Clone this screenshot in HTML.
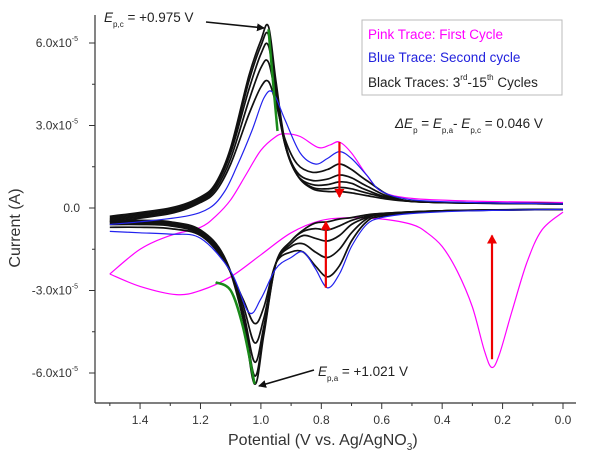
<!DOCTYPE html>
<html><head><meta charset="utf-8"><style>
body{margin:0;background:#fff;}
svg{display:block;font-family:"Liberation Sans",sans-serif;}
</style></head><body>
<svg id="chart" width="600" height="457" viewBox="0 0 600 457">
<defs>
<marker id="ah" markerWidth="8" markerHeight="8" refX="7" refY="4" orient="auto" markerUnits="userSpaceOnUse"><path d="M0,0 L8,4 L0,8 z" fill="#111"/></marker>
<marker id="ahr" markerWidth="9" markerHeight="10" refX="8" refY="5" orient="auto" markerUnits="userSpaceOnUse"><path d="M0,0 L9,5 L0,10 z" fill="#e00"/></marker>
</defs>
<g id="axes"></g>
<g id="series"></g>
<g id="annot"></g>
<text x="20" y="228" transform="rotate(-90 20 228)" text-anchor="middle" font-size="16" fill="#333">Current (A)</text>
<text x="228" y="445" font-size="16" fill="#333">Potential (V vs. Ag/AgNO<tspan font-size="10" dy="5">3</tspan><tspan dy="-5">)</tspan></text>
<g>
<rect x="362" y="20" width="200" height="75" fill="#fff" stroke="#bbb" stroke-width="1"/>
<text x="368" y="39" font-size="13.5" fill="#f0f">Pink Trace: First Cycle</text>
<text x="368" y="62" font-size="13.5" fill="#22d">Blue Trace: Second cycle</text>
<text x="368" y="87" font-size="13.5" fill="#222">Black Traces: 3<tspan font-size="8" dy="-7">rd</tspan><tspan dy="7">-15</tspan><tspan font-size="8" dy="-7">th</tspan><tspan dy="7"> Cycles</tspan></text>
</g>
<text x="395" y="128" font-size="13.5" fill="#222"><tspan font-style="italic">ΔE</tspan><tspan font-size="8" dy="5">p</tspan><tspan dy="-5"> = </tspan><tspan font-style="italic">E</tspan><tspan font-size="8" dy="5">p,a</tspan><tspan dy="-5">- </tspan><tspan font-style="italic">E</tspan><tspan font-size="8" dy="5">p,c</tspan><tspan dy="-5"> = 0.046 V</tspan></text>
<text x="104" y="22" font-size="13.5" fill="#222"><tspan font-style="italic">E</tspan><tspan font-size="8" dy="5">p,c</tspan><tspan dy="-5"> = +0.975 V</tspan></text>
<text x="318" y="376" font-size="13.5" fill="#222"><tspan font-style="italic">E</tspan><tspan font-size="8" dy="5">p,a</tspan><tspan dy="-5"> = +1.021 V</tspan></text>
</svg>
<script>
const xTicks=[1.4,1.2,1.0,0.8,0.6,0.4,0.2,0.0];
const xTickLabels=["1.4","1.2","1.0","0.8","0.6","0.4","0.2","0.0"];
const yTicks=[6,3,0,-3,-6];
const yTickLabels=["6.0x10","3.0x10","0.0","-3.0x10","-6.0x10"];
const pinkUpE=[1.5,1.4,1.3,1.2,1.15,1.1,1.05,1.0,0.95,0.92,0.87,0.81,0.77,0.74,0.7,0.65,0.6,0.5,0.3,0.0];
const pinkUpI=[-2.4,-1.5,-1.0,-0.7,-0.3,0.3,1.2,2.1,2.6,2.7,2.6,2.2,2.3,2.4,2.0,1.2,0.6,0.35,0.25,0.2];
const pinkDnE=[1.5,1.4,1.28,1.2,1.1,1.0,0.9,0.8,0.7,0.6,0.5,0.45,0.4,0.35,0.3,0.26,0.235,0.21,0.17,0.12,0.07,0.0];
const pinkDnI=[-2.4,-2.85,-3.15,-3.0,-2.5,-1.7,-0.9,-0.45,-0.35,-0.4,-0.6,-0.9,-1.4,-2.3,-3.6,-5.2,-5.8,-5.3,-3.8,-2.0,-0.8,-0.15];
const blueUpE=[0.0,0.3,0.5,0.6,0.65,0.7,0.74,0.78,0.82,0.87,0.92,0.96,0.99,1.03,1.08,1.12,1.17,1.25,1.4,1.5];
const blueUpI=[0.15,0.2,0.3,0.6,1.2,1.8,2.05,1.8,1.6,2.0,3.2,4.2,4.0,2.8,1.5,0.6,0.0,-0.3,-0.5,-0.6];
const blueDnE=[1.5,1.4,1.3,1.2,1.1,1.04,1.0,0.95,0.9,0.86,0.82,0.78,0.74,0.7,0.65,0.6,0.5,0.3,0.0];
const blueDnI=[-0.85,-0.9,-0.95,-1.1,-2.3,-3.8,-3.3,-2.2,-1.8,-1.6,-2.2,-2.9,-2.4,-1.4,-0.6,-0.35,-0.2,-0.1,-0.05];
const blackUpE=[0,0.4,0.55,0.65,0.7,0.74,0.78,0.83,0.88,0.92,0.95,0.975,1.0,1.04,1.1,1.15,1.2,1.3,1.5];
const black3Up=[0.15,0.2,0.35,1.0,1.4,1.6,1.4,1.3,1.6,2.5,3.8,4.6,4.4,3.4,1.6,0.6,0.2,-0.2,-0.5];
const black6Up=[0.15,0.2,0.32,0.8,1.1,1.2,1.05,1.0,1.3,2.3,4.0,5.3,5.1,3.9,1.8,0.7,0.25,-0.15,-0.45];
const black9Up=[0.15,0.2,0.3,0.65,0.9,0.95,0.85,0.85,1.2,2.3,4.2,5.9,5.6,4.3,2.0,0.8,0.3,-0.1,-0.4];
const black12Up=[0.15,0.2,0.3,0.55,0.7,0.75,0.7,0.75,1.2,2.3,4.4,6.3,5.9,4.6,2.1,0.85,0.35,-0.05,-0.35];
const black15Up=[0.15,0.2,0.28,0.45,0.55,0.6,0.6,0.7,1.2,2.4,4.6,6.6,6.1,4.8,2.2,0.9,0.4,0.0,-0.3];
const blackDnE=[1.5,1.4,1.3,1.2,1.12,1.06,1.021,0.99,0.95,0.9,0.86,0.82,0.78,0.74,0.7,0.65,0.6,0.4,0.0];
const black3Dn=[-0.7,-0.7,-0.75,-1.0,-1.95,-3.3,-4.2,-3.6,-2.0,-1.6,-1.6,-2.1,-2.5,-2.1,-1.2,-0.5,-0.3,-0.1,-0.05];
const black6Dn=[-0.6,-0.6,-0.65,-0.95,-1.9,-3.5,-4.9,-4.0,-2.0,-1.4,-1.3,-1.6,-1.8,-1.5,-0.9,-0.4,-0.25,-0.1,-0.05];
const black9Dn=[-0.55,-0.55,-0.6,-0.9,-1.85,-3.7,-5.6,-4.3,-2.0,-1.3,-1.0,-1.1,-1.2,-1.0,-0.6,-0.35,-0.22,-0.1,-0.05];
const black12Dn=[-0.5,-0.5,-0.55,-0.85,-1.8,-3.8,-6.1,-4.5,-2.0,-1.2,-0.85,-0.75,-0.8,-0.65,-0.45,-0.3,-0.2,-0.1,-0.05];
const black15Dn=[-0.45,-0.45,-0.5,-0.8,-1.8,-4.0,-6.4,-4.6,-2.0,-1.2,-0.8,-0.55,-0.5,-0.4,-0.35,-0.25,-0.2,-0.1,-0.05];
const greenUpE=[0.975,0.96,0.945];
const greenUpI=[6.5,4.6,2.8];
const greenDnE=[1.15,1.1,1.06,1.021];
const greenDnI=[-2.7,-3.0,-4.3,-6.4];

const NS="http://www.w3.org/2000/svg";
function X(v){return 563-302.1*v;}
function Y(i){return 208-27.5*i;}
function mk(tag,attrs,parent){const e=document.createElementNS(NS,tag);for(const k in attrs)e.setAttribute(k,attrs[k]);parent.appendChild(e);return e;}
function pathD(E,I){
  const p=E.map((e,k)=>[X(e),Y(I[k])]);
  let d="M"+p[0][0].toFixed(1)+","+p[0][1].toFixed(1);
  for(let k=0;k<p.length-1;k++){
    const p0=p[k-1]||p[k],p1=p[k],p2=p[k+1],p3=p[k+2]||p[k+1];
    const c1=[p1[0]+(p2[0]-p0[0])/6,p1[1]+(p2[1]-p0[1])/6];
    const c2=[p2[0]-(p3[0]-p1[0])/6,p2[1]-(p3[1]-p1[1])/6];
    d+="C"+c1.map(v=>v.toFixed(1))+" "+c2.map(v=>v.toFixed(1))+" "+p2.map(v=>v.toFixed(1));
  }
  return d;
}
const ax=document.getElementById('axes');
let l=mk('line',{x1:95,y1:15,x2:95,y2:403,stroke:'#333','stroke-width':1.2},ax);


l=mk('line',{x1:95,y1:403,x2:576,y2:403,stroke:'#333','stroke-width':1.2},ax);


xTicks.forEach((v,k)=>{
  const t=mk('line',{x1:X(v),y1:403,x2:X(v),y2:409,stroke:'#333'},ax);
  
  
  const m=mk('line',{x1:X(v+0.1),y1:403,x2:X(v+0.1),y2:406,stroke:'#333'},ax);
  
  
  const tx=mk('text',{x:X(v),y:424,'text-anchor':'middle','font-size':12,fill:'#333'},ax);
  tx.textContent=xTickLabels[k];
  
  
});
yTicks.forEach((v,k)=>{
  const t=mk('line',{x1:89,y1:Y(v),x2:95,y2:Y(v),stroke:'#333'},ax);
  
  
  if(v>-6){
    const m=mk('line',{x1:92,y1:Y(v-1.5),x2:95,y2:Y(v-1.5),stroke:'#333'},ax);
    
    
  }
  const tx=mk('text',{x:v===0?80:78,y:Y(v)+4,'text-anchor':'end','font-size':12,fill:'#333'},ax);
  tx.textContent=yTickLabels[k];
  if(v!==0){const s=mk('tspan',{'font-size':7,dy:-6},tx);s.textContent='-5';}
  
  
});
const sg=document.getElementById('series');
function trace(E,I,color,w,name){
  const p=mk('path',{d:pathD(E,I),fill:'none',stroke:color,'stroke-width':w,'stroke-linejoin':'round'},sg);
  
  
}
trace(pinkUpE,pinkUpI,'#f0f',1.2,'pink-trace-forward');
trace(pinkDnE,pinkDnI,'#f0f',1.2,'pink-trace-reverse');
[[black3Up,black3Dn,'3'],[black6Up,black6Dn,'6'],[black9Up,black9Dn,'9'],[black12Up,black12Dn,'12'],[black15Up,black15Dn,'15']].forEach(c=>{
  trace(blackUpE,c[0],'#111',1.7,'black-trace-'+c[2]+'-forward');
  trace(blackDnE,c[1],'#111',1.7,'black-trace-'+c[2]+'-reverse');
});
trace(blueUpE,blueUpI,'#22e',1.2,'blue-trace-forward');
trace(blueDnE,blueDnI,'#22e',1.2,'blue-trace-reverse');
trace(greenUpE,greenUpI,'#1a8a1a',2.5,'green-peak-shift-upper');
trace(greenDnE,greenDnI,'#1a8a1a',2.5,'green-peak-shift-lower');
const an=document.getElementById('annot');
function arrow(x1,y1,x2,y2,red,name){
  const a=mk('line',{x1,y1,x2,y2,stroke:red?'#e00':'#111','stroke-width':red?2.2:1.6,'marker-end':red?'url(#ahr)':'url(#ah)'},an);
  
  
}
arrow(X(0.74),Y(2.4),X(0.74),Y(0.4),true,'red-arrow-down-upper');
arrow(X(0.785),Y(-2.9),X(0.785),Y(-0.5),true,'red-arrow-up-lower');
arrow(X(0.235),Y(-5.5),X(0.235),Y(-1.0),true,'red-arrow-up-pink');
arrow(206,22,264,28,false,'epc-arrow');
arrow(314,370,259,386,false,'epa-arrow');
</script>
</body></html>
